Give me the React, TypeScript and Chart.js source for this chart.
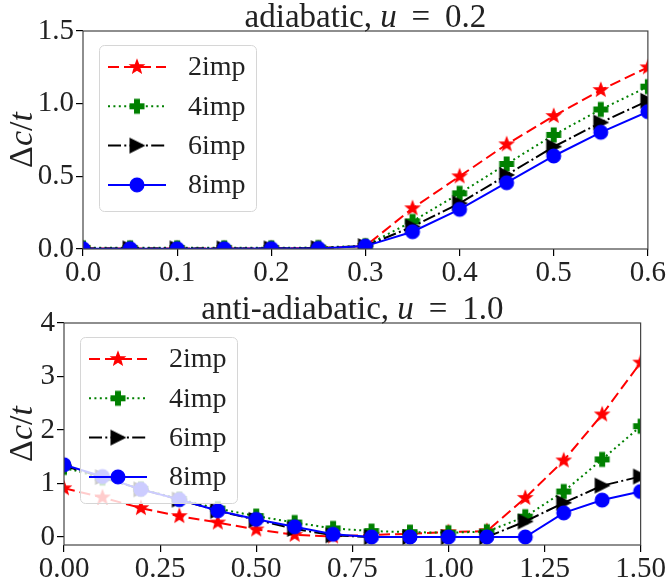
import React, { useEffect, useRef } from "react";
import { Chart, registerables } from "chart.js";

Chart.register(...registerables);

// ---------------- data ----------------
const seriesNames = ["2imp", "4imp", "6imp", "8imp"];

// adiabatic, u = 0.2
const adiaX = [0, 0.05, 0.1, 0.15, 0.2, 0.25, 0.3, 0.35, 0.4, 0.45, 0.5, 0.55, 0.6];
const adia2imp = [0.003, 0.003, 0.003, 0.003, 0.004, 0.006, 0.02, 0.28, 0.5, 0.72, 0.915, 1.094, 1.25];
const adia4imp = [0.008, 0.008, 0.008, 0.008, 0.008, 0.01, 0.022, 0.19, 0.383, 0.585, 0.785, 0.96, 1.117];
const adia6imp = [0.004, 0.004, 0.004, 0.004, 0.004, 0.006, 0.02, 0.154, 0.314, 0.509, 0.704, 0.87, 1.02];
const adia8imp = [0.002, 0.002, 0.002, 0.002, 0.003, 0.004, 0.02, 0.119, 0.273, 0.456, 0.64, 0.803, 0.945];
const adiaXTicks = [0, 0.1, 0.2, 0.3, 0.4, 0.5, 0.6];
const adiaXLabels = ["0.0", "0.1", "0.2", "0.3", "0.4", "0.5", "0.6"];
const adiaYTicks = [0, 0.5, 1.0, 1.5];
const adiaYLabels = ["0.0", "0.5", "1.0", "1.5"];

// anti-adiabatic, u = 1.0
const antiX = [0, 0.1, 0.2, 0.3, 0.4, 0.5, 0.6, 0.7, 0.8, 0.9, 1.0, 1.1, 1.2, 1.3, 1.4, 1.5];
const anti2imp = [0.91, 0.74, 0.54, 0.39, 0.27, 0.14, 0.04, 0.01, 0.04, 0.06, 0.09, 0.11, 0.73, 1.43, 2.29, 3.26];
const anti4imp = [1.3, 1.1, 0.9, 0.71, 0.53, 0.39, 0.27, 0.16, 0.11, 0.09, 0.08, 0.1, 0.38, 0.85, 1.45, 2.07];
const anti6imp = [1.33, 1.12, 0.89, 0.7, 0.49, 0.32, 0.15, 0.03, 0.0, 0.0, 0.0, 0.0, 0.29, 0.64, 0.96, 1.13];
const anti8imp = [1.35, 1.13, 0.89, 0.7, 0.49, 0.33, 0.19, 0.05, 0.0, 0.0, 0.0, 0.0, 0.0, 0.45, 0.69, 0.85];
const antiXTicks = [0, 0.25, 0.5, 0.75, 1.0, 1.25, 1.5];
const antiXLabels = ["0.00", "0.25", "0.50", "0.75", "1.00", "1.25", "1.50"];
const antiYTicks = [0, 1, 2, 3, 4];
const antiYLabels = ["0", "1", "2", "3", "4"];

// ---------------- styles ----------------
const FONT = '"Liberation Serif", "Times New Roman", serif';
const colors = ["#ff0000", "#008000", "#000000", "#0000ff"];
const dashes = [[11, 5], [2, 3.4], [13, 3.3, 2, 3.3], []];
const markerKinds = ["star", "plus", "tri", "circle"];

function makeMarker(kind: string, color: string): HTMLCanvasElement {
  const s = 20;
  const c = document.createElement("canvas");
  c.width = s;
  c.height = s;
  const ctx = c.getContext("2d")!;
  ctx.translate(s / 2, s / 2);
  ctx.fillStyle = color;
  ctx.strokeStyle = color;
  ctx.lineWidth = 1.4;
  ctx.lineJoin = "miter";
  ctx.beginPath();
  const R = 6.8;
  if (kind === "star") {
    const r = R * 0.42;
    for (let i = 0; i < 10; i++) {
      const ang = -Math.PI / 2 + (i * Math.PI) / 5;
      const rr = i % 2 === 0 ? R : r;
      const px = Math.cos(ang) * rr;
      const py = Math.sin(ang) * rr;
      if (i === 0) ctx.moveTo(px, py);
      else ctx.lineTo(px, py);
    }
    ctx.closePath();
  } else if (kind === "plus") {
    const h = R;
    const w = R / 3;
    const pts = [
      [-w, -h], [w, -h], [w, -w], [h, -w], [h, w], [w, w],
      [w, h], [-w, h], [-w, w], [-h, w], [-h, -w], [-w, -w],
    ];
    pts.forEach((p, i) => (i === 0 ? ctx.moveTo(p[0], p[1]) : ctx.lineTo(p[0], p[1])));
    ctx.closePath();
  } else if (kind === "tri") {
    ctx.moveTo(R, 0);
    ctx.lineTo(-R, -R);
    ctx.lineTo(-R, R);
    ctx.closePath();
  } else {
    ctx.arc(0, 0, R, 0, Math.PI * 2);
  }
  ctx.fill();
  ctx.stroke();
  return c;
}

type Seg = { t: string; it?: boolean };

function drawSegs(ctx: CanvasRenderingContext2D, segs: Seg[], x: number, y: number, size: number) {
  const widths = segs.map((s) => {
    ctx.font = `${s.it ? "italic " : ""}${size}px ${FONT}`;
    return ctx.measureText(s.t).width;
  });
  const total = widths.reduce((a, b) => a + b, 0);
  let cx = x - total / 2;
  ctx.textAlign = "left";
  ctx.textBaseline = "alphabetic";
  segs.forEach((s, i) => {
    ctx.font = `${s.it ? "italic " : ""}${size}px ${FONT}`;
    ctx.fillText(s.t, cx, y);
    cx += widths[i];
  });
}

const yLabelSegs: Seg[] = [{ t: "Δ" }, { t: "c", it: true }, { t: "/" }, { t: "t", it: true }];

type PanelProps = {
  xs: number[];
  ys: number[][];
  xTicks: number[];
  xLabels: string[];
  yTicks: number[];
  yLabels: string[];
  xMin: number;
  xMax: number;
  yMin: number;
  yMax: number;
  title: Seg[];
  area: { left: number; right: number; top: number; bottom: number };
  width: number;
  height: number;
};

function Panel(p: PanelProps) {
  const ref = useRef<HTMLCanvasElement | null>(null);
  useEffect(() => {
    const canvas = ref.current!;
    const markers = markerKinds.map((k, i) => makeMarker(k, colors[i]));
    const datasets = seriesNames.map((name, i) => ({
      label: name,
      data: p.xs.map((x, j) => ({ x, y: p.ys[i][j] })),
      borderColor: colors[i],
      backgroundColor: colors[i],
      borderWidth: 2,
      borderDash: dashes[i],
      pointStyle: markers[i] as any,
      pointRadius: 7,
      tension: 0,
      fill: false,
      clip: 0,
      order: 3 - i,
    }));

    const decor = {
      id: "decor",
      afterDatasetsDraw(chart: any) {
        const { ctx, chartArea: a } = chart;
        ctx.save();
        ctx.strokeStyle = "#444";
        ctx.lineWidth = 1.2;
        ctx.strokeRect(a.left, a.top, a.right - a.left, a.bottom - a.top);
        ctx.restore();
      },
      afterDraw(chart: any) {
        const { ctx, chartArea: a } = chart;
        ctx.save();
        // legend
        const lx = a.left + 16;
        const ly = a.top + 14;
        const lw = 157;
        const lh = 166;
        ctx.beginPath();
        (ctx as any).roundRect(lx + 0.5, ly + 0.5, lw, lh, 5);
        ctx.fillStyle = "rgba(255,255,255,0.8)";
        ctx.fill();
        ctx.strokeStyle = "rgb(214,214,214)";
        ctx.lineWidth = 1;
        ctx.stroke();
        seriesNames.forEach((name, i) => {
          const ry = ly + 22 + i * 39.3;
          ctx.beginPath();
          ctx.setLineDash(dashes[i]);
          ctx.strokeStyle = colors[i];
          ctx.lineWidth = 2;
          ctx.moveTo(lx + 9, ry);
          ctx.lineTo(lx + 67, ry);
          ctx.stroke();
          ctx.setLineDash([]);
          ctx.drawImage(markers[i], lx + 38 - 10, ry - 10);
          ctx.fillStyle = "#222";
          ctx.font = `28px ${FONT}`;
          ctx.textAlign = "left";
          ctx.textBaseline = "middle";
          ctx.fillText(name, lx + 89, ry + 1);
        });
        // title
        ctx.fillStyle = "#222";
        drawSegs(ctx, p.title, (a.left + a.right) / 2, a.top - 4, 33);
        // y label
        ctx.translate(32, (a.top + a.bottom) / 2);
        ctx.rotate(-Math.PI / 2);
        drawSegs(ctx, yLabelSegs, 0, 0, 34);
        ctx.restore();
      },
    };

    const tickFont = { family: FONT, size: 29 };
    const chart = new Chart(canvas, {
      type: "line",
      data: { datasets: datasets as any },
      options: {
        responsive: false,
        animation: false,
        events: [],
        layout: {
          autoPadding: false,
          padding: { left: 0, right: p.width - p.area.right, top: p.area.top, bottom: 0 },
        },
        plugins: { legend: { display: false }, tooltip: { enabled: false }, title: { display: false } },
        scales: {
          x: {
            type: "linear",
            min: p.xMin,
            max: p.xMax,
            afterBuildTicks: (s: any) => {
              s.ticks = p.xTicks.map((v) => ({ value: v }));
            },
            afterFit: (s: any) => {
              s.height = p.height - p.area.bottom;
            },
            grid: { drawOnChartArea: false, drawTicks: true, tickLength: 7, color: "#000", lineWidth: 1.2 },
            border: { display: false },
            ticks: {
              callback: (_v: any, i: number) => p.xLabels[i],
              font: tickFont,
              color: "#222",
              padding: 0,
              autoSkip: false,
              maxRotation: 0,
              minRotation: 0,
            },
          },
          y: {
            type: "linear",
            min: p.yMin,
            max: p.yMax,
            afterBuildTicks: (s: any) => {
              s.ticks = p.yTicks.map((v) => ({ value: v }));
            },
            afterFit: (s: any) => {
              s.width = p.area.left;
            },
            grid: { drawOnChartArea: false, drawTicks: true, tickLength: 7, color: "#000", lineWidth: 1.2 },
            border: { display: false },
            ticks: {
              callback: (_v: any, i: number) => p.yLabels[i],
              font: tickFont,
              color: "#222",
              padding: 2,
              autoSkip: false,
            },
          },
        },
      } as any,
      plugins: [decor as any],
    });
    return () => chart.destroy();
  }, []);
  return <canvas ref={ref} width={p.width} height={p.height} style={{ display: "block", width: p.width, height: p.height }} />;
}

export default function App() {
  return (
    <div style={{ position: "absolute", left: 0, top: 0, width: 666, height: 584, background: "#fff" }}>
      <Panel
        xs={adiaX}
        ys={[adia2imp, adia4imp, adia6imp, adia8imp]}
        xTicks={adiaXTicks}
        xLabels={adiaXLabels}
        yTicks={adiaYTicks}
        yLabels={adiaYLabels}
        xMin={0}
        xMax={0.6}
        yMin={0}
        yMax={1.5}
        title={[{ t: "adiabatic, " }, { t: "u", it: true }, { t: " \u2009=\u2009 0.2" }]}
        area={{ left: 83, right: 649, top: 31, bottom: 249 }}
        width={666}
        height={292}
      />
      <Panel
        xs={antiX}
        ys={[anti2imp, anti4imp, anti6imp, anti8imp]}
        xTicks={antiXTicks}
        xLabels={antiXLabels}
        yTicks={antiYTicks}
        yLabels={antiYLabels}
        xMin={0}
        xMax={1.5}
        yMin={-0.15}
        yMax={4}
        title={[{ t: "anti-adiabatic, " }, { t: "u", it: true }, { t: " \u2009=\u2009 1.0" }]}
        area={{ left: 64, right: 641, top: 31, bottom: 253 }}
        width={666}
        height={292}
      />
    </div>
  );
}
